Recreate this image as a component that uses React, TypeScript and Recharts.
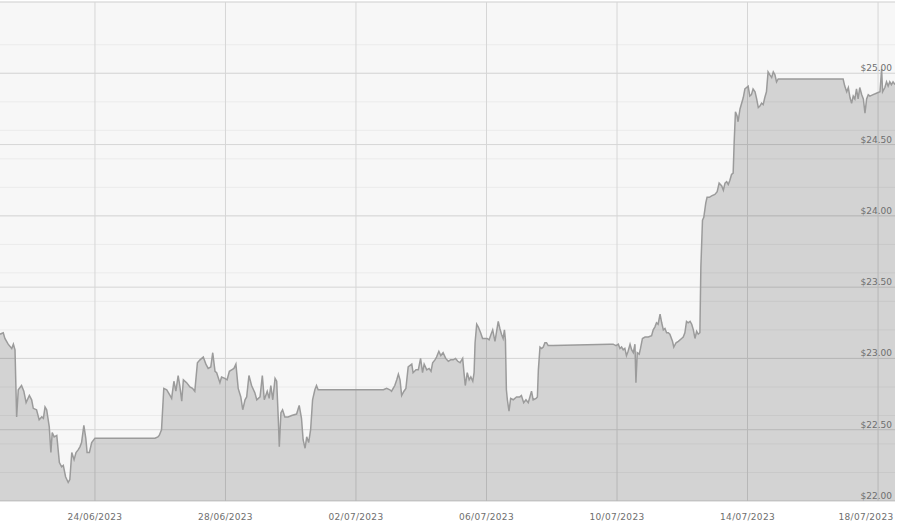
import React from 'react'
import { Area, AreaChart, CartesianGrid, XAxis, YAxis } from 'recharts'

// x = days since 24/06/2023 00:00
const dayTicks = [0, 4, 8, 12, 16, 20, 24]
const dayLabels = ['24/06/2023', '28/06/2023', '02/07/2023', '06/07/2023', '10/07/2023', '14/07/2023', '18/07/2023']

const priceTicks = [22, 22.5, 23, 23.5, 24, 24.5, 25]
const majorGrid = [22, 22.5, 23, 23.5, 24, 24.5, 25, 25.5]

const times = [
  -2.91, -2.81, -2.76, -2.66, -2.55, -2.5, -2.45, -2.4, -2.35, -2.25, -2.18, -2.11, -2.01, -1.94, -1.89, -1.79,
  -1.71, -1.63, -1.58, -1.53, -1.48, -1.4, -1.35, -1.31, -1.25, -1.17, -1.09, -1.02, -0.97, -0.9, -0.82, -0.77,
  -0.71, -0.64, -0.58, -0.51, -0.46, -0.41, -0.34, -0.28, -0.24, -0.17, -0.1, 0, 1.84, 1.93, 1.97, 2.04,
  2.11, 2.2, 2.3, 2.35, 2.42, 2.48, 2.55, 2.6, 2.66, 2.71, 2.81, 2.91, 2.99, 3.06, 3.14, 3.22,
  3.32, 3.4, 3.47, 3.55, 3.61, 3.68, 3.73, 3.83, 3.88, 3.98, 4.05, 4.12, 4.19, 4.26, 4.32, 4.39,
  4.47, 4.53, 4.6, 4.65, 4.72, 4.8, 4.9, 4.96, 5.06, 5.13, 5.19, 5.28, 5.34, 5.39, 5.45, 5.52,
  5.57, 5.62, 5.65, 5.7, 5.75, 5.82, 5.92, 6.03, 6.18, 6.26, 6.33, 6.38, 6.44, 6.49, 6.55, 6.61,
  6.67, 6.74, 6.79, 6.84, 6.95, 8.84, 8.94, 9.04, 9.09, 9.14, 9.19, 9.25, 9.3, 9.35, 9.4, 9.47,
  9.53, 9.6, 9.65, 9.71, 9.75, 9.84, 9.91, 9.98, 10.04, 10.09, 10.17, 10.24, 10.3, 10.35, 10.42, 10.47,
  10.54, 10.6, 10.67, 10.75, 10.83, 10.9, 10.98, 11.05, 11.12, 11.19, 11.27, 11.31, 11.35, 11.41, 11.47, 11.52,
  11.58, 11.62, 11.65, 11.7, 11.75, 11.82, 11.88, 11.95, 12.02, 12.08, 12.14, 12.19, 12.26, 12.31, 12.36, 12.41,
  12.46, 12.51, 12.55, 12.58, 12.61, 12.64, 12.69, 12.74, 12.82, 12.92, 13.02, 13.07, 13.14, 13.21, 13.28, 13.33,
  13.38, 13.43, 13.52, 13.56, 13.59, 13.64, 13.69, 13.74, 13.79, 13.84, 13.89, 14.04, 15.78, 15.88, 15.97, 16.04,
  16.09, 16.14, 16.19, 16.24, 16.29, 16.34, 16.4, 16.45, 16.5, 16.55, 16.58, 16.62, 16.68, 16.72, 16.78, 16.86,
  16.96, 17.06, 17.11, 17.16, 17.21, 17.26, 17.32, 17.37, 17.42, 17.47, 17.52, 17.57, 17.62, 17.7, 17.74, 17.81,
  17.88, 17.98, 18.03, 18.08, 18.13, 18.18, 18.24, 18.29, 18.34, 18.39, 18.44, 18.49, 18.54, 18.57, 18.62, 18.66,
  18.72, 18.76, 18.83, 18.9, 19.0, 19.07, 19.13, 19.21, 19.26, 19.31, 19.36, 19.41, 19.46, 19.51, 19.56, 19.59,
  19.63, 19.68, 19.71, 19.77, 19.82, 19.87, 19.92, 19.97, 20.02, 20.07, 20.12, 20.17, 20.23, 20.28, 20.33, 20.38,
  20.43, 20.48, 20.53, 20.58, 20.63, 20.68, 20.74, 20.79, 20.84, 20.89, 20.94, 22.93, 22.98, 23.04, 23.09, 23.14,
  23.19, 23.24, 23.29, 23.34, 23.39, 23.44, 23.5, 23.55, 23.6, 23.65, 23.7, 23.75, 23.85, 23.95, 24.06, 24.11,
  24.14, 24.21, 24.26, 24.31, 24.36, 24.41, 24.46, 24.52,
]

const prices = [
  23.17, 23.18, 23.14, 23.1, 23.07, 23.1, 23.06, 22.59, 22.78, 22.81, 22.77, 22.69, 22.74, 22.71, 22.65, 22.64,
  22.57, 22.59, 22.58, 22.66, 22.64, 22.52, 22.34, 22.48, 22.45, 22.46, 22.27, 22.24, 22.25, 22.17, 22.13, 22.15,
  22.34, 22.29, 22.34, 22.36, 22.38, 22.41, 22.53, 22.44, 22.34, 22.34, 22.41, 22.44, 22.44, 22.45, 22.46, 22.5,
  22.79, 22.78, 22.74, 22.72, 22.84, 22.77, 22.88, 22.81, 22.7, 22.85, 22.83, 22.8, 22.79, 22.77, 22.97, 22.99,
  23.01, 22.96, 22.93, 22.94, 23.04, 22.91, 22.9, 22.83, 22.87, 22.86, 22.85, 22.91, 22.92, 22.93, 22.96, 22.79,
  22.73, 22.64, 22.71, 22.73, 22.88, 22.81, 22.76, 22.71, 22.73, 22.88, 22.71, 22.77, 22.72, 22.81, 22.71, 22.86,
  22.84, 22.57, 22.38, 22.62, 22.64, 22.59, 22.59, 22.6, 22.61, 22.67, 22.58, 22.43, 22.37, 22.45, 22.41, 22.5,
  22.71, 22.78, 22.81, 22.78, 22.78, 22.78, 22.79, 22.78, 22.77, 22.79, 22.81, 22.85, 22.89, 22.85, 22.74, 22.77,
  22.79, 22.94, 22.95, 22.96, 22.9, 22.92, 22.92, 23.0, 22.9, 22.96, 22.92, 22.93, 22.91, 22.97, 22.99, 23.01,
  23.05, 23.02, 23.04, 23.0, 22.98, 22.99, 22.99, 23.0, 22.98, 22.97, 23.0, 22.9, 22.81, 22.9, 22.85, 22.87,
  22.84, 22.9, 23.11, 23.24, 23.22, 23.18, 23.14, 23.14, 23.14, 23.13, 23.17, 23.2, 23.12, 23.19, 23.26, 23.21,
  23.17, 23.14, 23.2, 23.13, 22.78, 22.71, 22.63, 22.72, 22.71, 22.73, 22.73, 22.74, 22.69, 22.71, 22.69, 22.73,
  22.77, 22.71, 22.72, 22.73, 22.92, 23.08, 23.07, 23.08, 23.11, 23.11, 23.09, 23.09, 23.1, 23.1, 23.09, 23.1,
  23.07, 23.08, 23.06, 23.07, 23.02, 23.05, 23.1, 23.06, 23.04, 23.1, 22.83, 23.04, 23.03, 23.07, 23.14, 23.15,
  23.15, 23.16, 23.2, 23.22, 23.25, 23.24, 23.31, 23.25, 23.2, 23.21, 23.18, 23.18, 23.17, 23.12, 23.08, 23.11,
  23.12, 23.14, 23.15, 23.18, 23.26, 23.25, 23.26, 23.24, 23.2, 23.14, 23.19, 23.17, 23.18, 23.64, 23.97, 23.99,
  24.09, 24.13, 24.13, 24.14, 24.15, 24.17, 24.23, 24.21, 24.18, 24.23, 24.24, 24.22, 24.25, 24.29, 24.3, 24.51,
  24.73, 24.7, 24.66, 24.75, 24.79, 24.83, 24.89, 24.9, 24.91, 24.84, 24.85, 24.89, 24.87, 24.82, 24.76, 24.77,
  24.79, 24.78, 24.83, 24.87, 25.01, 24.99, 24.97, 25.01, 24.99, 24.94, 24.96, 24.96, 24.91, 24.87, 24.9, 24.83,
  24.79, 24.84, 24.82, 24.89, 24.82, 24.9, 24.85, 24.82, 24.72, 24.82, 24.85, 24.84, 24.85, 24.86, 24.87, 25.03,
  24.87, 24.9, 24.94, 24.91, 24.94, 24.92, 24.94, 24.92,
]

const data = times.map((t, i) => ({ t, price: prices[i] }))

// thin lines every 10 cents between the 50-cent lines
const minorGrid = majorGrid
  .flatMap((v) => [0, 0.1, 0.2, 0.3, 0.4].map((d) => Math.round((v + d) * 10) / 10))
  .filter((v) => v <= 25.5)

const chartWidth = 900
const labelColor = '#6e6e6e'
const font = 'DejaVu Sans, sans-serif'

function PriceTick(props: any) {
  const { x, y, payload } = props
  return (
    <text x={x} y={y - 2} textAnchor="end" fill={labelColor} fontSize={9} fontFamily={font}>
      {'$' + payload.value.toFixed(2)}
    </text>
  )
}

function DateTick(props: any) {
  const { x, y, payload } = props
  const label = dayLabels[dayTicks.indexOf(payload.value)]
  // keep the last label inside the chart, like the original
  const right = chartWidth - 7
  const half = 27
  const cx = Math.min(x, right - half)
  return (
    <text x={cx} y={y} dy="0.71em" textAnchor="middle" fill={labelColor} fontSize={9} fontFamily={font} letterSpacing={0.3}>
      {label}
    </text>
  )
}

export default function App() {
  return (
    <div style={{ position: 'absolute', left: 0, top: 0, background: '#fff' }}>
      <AreaChart width={chartWidth} height={529} data={data} margin={{ top: 2, right: 5, bottom: 0, left: 0 }}>
        <CartesianGrid horizontalValues={minorGrid} vertical={false} stroke="#ebebeb" fill="#f7f7f7" />
        <CartesianGrid horizontalValues={majorGrid} verticalValues={dayTicks} stroke="#d6d6d6" />
        <XAxis
          dataKey="t"
          type="number"
          domain={[-2.91, 24.52]}
          ticks={dayTicks}
          axisLine={false}
          tickLine={false}
          tickSize={0}
          tickMargin={13}
          height={28}
          allowDataOverflow
          interval={0}
          tick={<DateTick />}
        />
        <YAxis
          orientation="right"
          mirror
          domain={[22, 25.5]}
          ticks={priceTicks}
          axisLine={false}
          tickLine={false}
          tickSize={0}
          tickMargin={3}
          allowDataOverflow
          tick={<PriceTick />}
        />
        <Area
          type="linear"
          dataKey="price"
          stroke="#9b9b9b"
          strokeWidth={1.5}
          fill="#000"
          fillOpacity={0.145}
          dot={false}
          activeDot={false}
          isAnimationActive={false}
        />
      </AreaChart>
    </div>
  )
}
